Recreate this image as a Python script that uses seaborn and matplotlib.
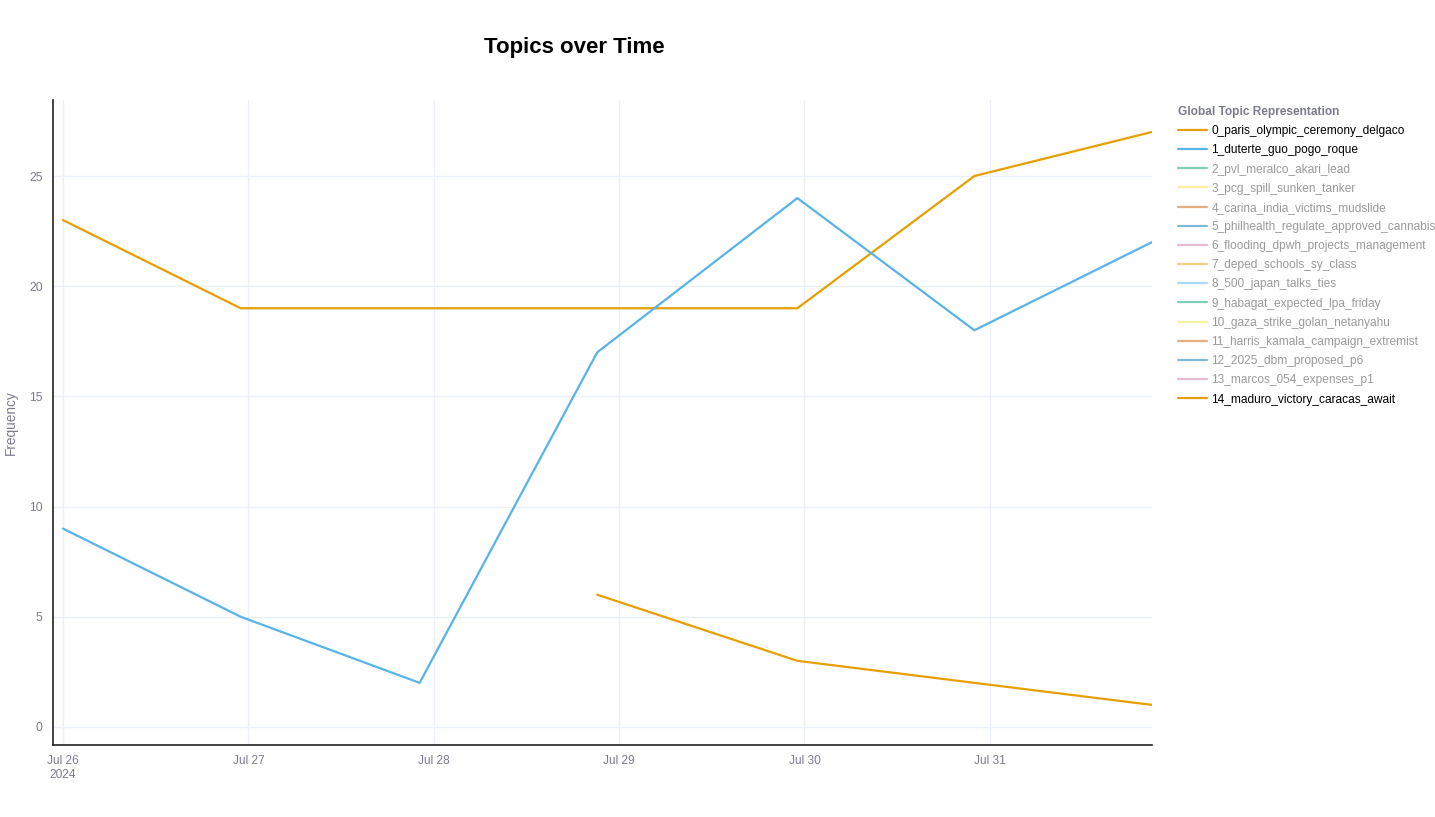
import pandas as pd
import matplotlib.pyplot as plt
import matplotlib.dates as mdates
from matplotlib.lines import Line2D
import seaborn as sns

# topic labels (legend order) and their colours
topics = [
    "0_paris_olympic_ceremony_delgaco",
    "1_duterte_guo_pogo_roque",
    "2_pvl_meralco_akari_lead",
    "3_pcg_spill_sunken_tanker",
    "4_carina_india_victims_mudslide",
    "5_philhealth_regulate_approved_cannabis",
    "6_flooding_dpwh_projects_management",
    "7_deped_schools_sy_class",
    "8_500_japan_talks_ties",
    "9_habagat_expected_lpa_friday",
    "10_gaza_strike_golan_netanyahu",
    "11_harris_kamala_campaign_extremist",
    "12_2025_dbm_proposed_p6",
    "13_marcos_054_expenses_p1",
    "14_maduro_victory_caracas_await",
]
colors = ["#E69F00", "#56B4E9", "#009E73", "#F0E442", "#D55E00", "#0072B2", "#CC79A7"] * 3
visible = [0, 1, 14]

# bin timestamps
timestamps = pd.to_datetime([
    "2024-07-26 00:00", "2024-07-26 23:00", "2024-07-27 22:10",
    "2024-07-28 21:10", "2024-07-29 23:05", "2024-07-30 22:00",
    "2024-07-31 21:00",
])
freq_topic0 = [23, 19, 19, 19, 19, 25, 27]
freq_topic1 = [9, 5, 2, 17, 24, 18, 22]
freq_topic14 = [6, 3, 2, 1]  # starts at the 4th bin

df = pd.concat([
    pd.DataFrame({"Timestamp": timestamps, "Frequency": freq_topic0, "Topic": topics[0]}),
    pd.DataFrame({"Timestamp": timestamps, "Frequency": freq_topic1, "Topic": topics[1]}),
    pd.DataFrame({"Timestamp": timestamps[3:], "Frequency": freq_topic14, "Topic": topics[14]}),
])

sns.set_style("white")
plt.rcParams["font.family"] = ["Liberation Sans", "DejaVu Sans"]
gray = "#7b7b8f"
grid = "#EBF0F8"

fig = plt.figure(figsize=(14.35, 8.17), dpi=100)
ax = fig.add_axes([53 / 1435, 1 - 745 / 817, (1152 - 53) / 1435, (745 - 100) / 817])

palette = {topics[i]: colors[i] for i in visible}
sns.lineplot(data=df, x="Timestamp", y="Frequency", hue="Topic", palette=palette,
             linewidth=1.6, ax=ax, legend=False, estimator=None, sort=True)

ax.set_xlim(timestamps[0] - pd.Timedelta(hours=1.3), timestamps[-1])
ax.set_ylim(-0.82, 28.45)
ax.set_yticks([0, 5, 10, 15, 20, 25])
ticks = pd.date_range("2024-07-26", "2024-07-31", freq="D")
ax.set_xticks(ticks)
ax.set_xticklabels([t.strftime("%b %d") + ("\n2024" if i == 0 else "") for i, t in enumerate(ticks)])

ax.grid(True, color=grid, linewidth=1)
ax.set_axisbelow(True)
for s in ["top", "right"]:
    ax.spines[s].set_visible(False)
for s in ["left", "bottom"]:
    ax.spines[s].set_color("#222222")
    ax.spines[s].set_linewidth(1.2)
ax.tick_params(axis="x", length=0, pad=7, labelsize=8.6, labelcolor=gray)
ax.tick_params(axis="y", length=5, color=grid, pad=2.5, labelsize=8.8, labelcolor=gray)
ax.set_xlabel("")
ax.set_ylabel("Frequency", fontsize=9.8, color=gray, labelpad=8)

fig.text(0.4, 1 - 48 / 817, "Topics over Time", ha="center", va="center",
         fontsize=16, fontweight="bold", color="black")

handles = []
for i, name in enumerate(topics):
    alpha = 1.0 if i in visible else 0.5
    handles.append(Line2D([0], [0], color=colors[i], linewidth=1.6, alpha=alpha))
leg = ax.legend(handles, topics, title="Global Topic Representation",
                loc="upper left", bbox_to_anchor=(1178 / 1435, 1 - 106 / 817),
                bbox_transform=fig.transFigure, frameon=False, fontsize=8.6,
                title_fontsize=8.6, handlelength=2.4, handletextpad=0.4,
                labelspacing=0.6, borderpad=0, borderaxespad=0, alignment="left")
leg.get_title().set_fontweight("bold")
leg.get_title().set_color(gray)
for i, t in enumerate(leg.get_texts()):
    t.set_color("black" if i in visible else "#9a9a9a")

fig.savefig("out.png", dpi=100)
